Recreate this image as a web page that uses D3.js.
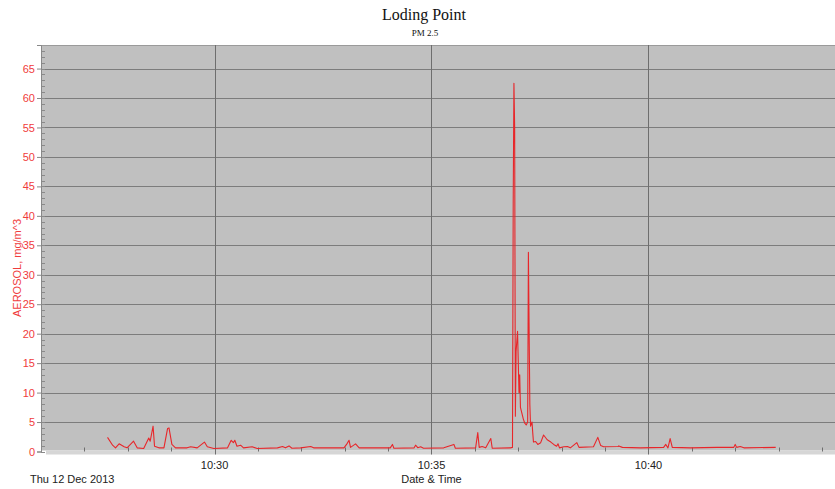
<!DOCTYPE html>
<html>
<head>
<meta charset="utf-8">
<script src="https://cdn.jsdelivr.net/npm/d3@7"></script>
<style>
  body { margin: 0; background: #fff; }
  text { font-family: "Liberation Sans", Arial, sans-serif; }
</style>
</head>
<body>
<script>
// sample times (Thu 12 Dec 2013) and aerosol readings, mg/m^3
var times = [
  "10:27:32","10:27:39","10:27:43","10:27:48","10:27:55","10:27:59","10:28:08","10:28:13",
  "10:28:22","10:28:29","10:28:31","10:28:35","10:28:37","10:28:43","10:28:50","10:28:55",
  "10:28:57","10:28:59","10:29:01","10:29:06","10:29:22","10:29:27","10:29:36","10:29:46",
  "10:29:50","10:29:59","10:30:18","10:30:23","10:30:26","10:30:28","10:30:31","10:30:36",
  "10:30:40","10:30:52","10:30:59","10:31:27","10:31:34","10:31:38","10:31:43","10:31:47",
  "10:31:59","10:32:13","10:32:17","10:32:59","10:33:03","10:33:06","10:33:08","10:33:15",
  "10:33:20","10:34:03","10:34:06","10:34:08","10:34:36","10:34:38","10:34:41","10:34:45",
  "10:34:49","10:35:17","10:35:31","10:35:33","10:36:01","10:36:04","10:36:06","10:36:10",
  "10:36:15","10:36:22","10:36:24","10:36:49","10:36:52","10:36:53","10:36:54","10:36:55",
  "10:36:56","10:36:57","10:36:59","10:37:01","10:37:02","10:37:03","10:37:06","10:37:07",
  "10:37:09","10:37:11","10:37:13","10:37:14","10:37:16","10:37:17","10:37:19","10:37:20",
  "10:37:21","10:37:24","10:37:27","10:37:31","10:37:35","10:37:40","10:37:45","10:37:49",
  "10:37:53","10:37:55","10:37:57","10:38:03","10:38:08","10:38:12","10:38:21","10:38:24",
  "10:38:44","10:38:50","10:38:54","10:38:58","10:39:18","10:39:19","10:39:24","10:39:49",
  "10:40:21","10:40:24","10:40:27","10:40:30","10:40:33","10:40:58","10:41:35","10:41:58",
  "10:42:00","10:42:02","10:42:07","10:42:12","10:42:56"
];
var aerosol = [
  2.4,1.07,0.62,1.3,0.8,0.62,1.75,0.62,
  0.5,2.3,1.75,4.3,0.9,0.62,0.62,3.9,
  4.0,2.6,1.2,0.62,0.62,0.8,0.62,1.6,
  0.8,0.5,0.62,1.9,1.5,1.9,0.9,1.07,
  0.62,0.8,0.5,0.62,0.85,0.62,0.95,0.55,
  0.62,0.85,0.62,0.62,1.3,1.9,0.7,1.3,
  0.62,0.62,1.2,0.55,0.62,1.07,0.65,0.8,
  0.55,0.62,1.2,0.55,0.62,3.2,0.7,0.85,
  0.62,2.2,0.55,0.62,0.7,42,62.5,55,
  6,17,20.4,10,13,7.5,6,5.5,
  4.8,4.5,5,33.8,8,4.3,5,3.2,
  1.6,1.7,1.2,1.5,2.8,2.0,1.6,1.2,
  0.9,1.3,0.62,0.8,0.85,0.62,1.5,0.7,
  0.8,2.4,1.0,0.8,0.85,0.95,0.7,0.62,
  0.7,1.2,0.62,2.2,0.7,0.62,0.7,0.7,
  1.2,0.7,0.85,0.62,0.7
];
var yTicks = [0,5,10,15,20,25,30,35,40,45,50,55,60,65];
var xTicks = ["10:30","10:35","10:40"];

var width = 835, height = 489;
var pLeft = 41, pRight = 835, pTop = 45, pBottom = 451.5;
var parse = d3.timeParse("%H:%M:%S");
var red = "#f03c3c";

var data = times.map(function(t, i){ return {t: parse(t), v: aerosol[i]}; });

var svg = d3.select("body").append("svg")
  .attr("width", width)
  .attr("height", height);

var x = d3.scaleTime()
  .domain([parse("10:26:00"), parse("10:44:18")])
  .range([pLeft, pRight]);
var y = d3.scaleLinear()
  .domain([0, 69])
  .range([pBottom, pTop]);

// plot background
svg.append("rect")
  .attr("x", pLeft).attr("y", pTop)
  .attr("width", pRight - pLeft).attr("height", pBottom - pTop - 1)
  .attr("fill", "#c0c0c0");
svg.append("rect")
  .attr("x", pLeft + 5).attr("y", pBottom - 1)
  .attr("width", pRight - pLeft - 5).attr("height", 4)
  .attr("fill", "#d6d6d6");
svg.append("line")
  .attr("x1", pLeft).attr("x2", pRight)
  .attr("y1", pTop + 0.5).attr("y2", pTop + 0.5)
  .attr("stroke", "#9a9a9a");

// horizontal grid
svg.append("g").selectAll("line")
  .data(yTicks.filter(function(d){ return d > 0; }))
  .enter().append("line")
  .attr("x1", pLeft).attr("x2", pRight)
  .attr("y1", function(d){ return Math.round(y(d)) + 0.5; })
  .attr("y2", function(d){ return Math.round(y(d)) + 0.5; })
  .attr("stroke", "#7c7c7c")
  .attr("stroke-width", 1.2);

// vertical grid
svg.append("g").selectAll("line")
  .data(xTicks)
  .enter().append("line")
  .attr("x1", function(d){ return Math.round(x(parse(d + ":00"))) + 0.5; })
  .attr("x2", function(d){ return Math.round(x(parse(d + ":00"))) + 0.5; })
  .attr("y1", pTop).attr("y2", pBottom + 3)
  .attr("stroke", "#6e6e6e");

// minor ticks, y (every 1) and x (every minute)
svg.append("g").selectAll("line")
  .data(d3.range(0, 69))
  .enter().append("line")
  .attr("x1", pLeft).attr("x2", pLeft + 4)
  .attr("y1", function(d){ return Math.round(y(d)) + 0.5; })
  .attr("y2", function(d){ return Math.round(y(d)) + 0.5; })
  .attr("stroke", "#8a8a8a");
svg.append("g").selectAll("line")
  .data(x.ticks(d3.timeMinute.every(1)))
  .enter().append("line")
  .attr("x1", function(d){ return Math.round(x(d)) + 0.5; })
  .attr("x2", function(d){ return Math.round(x(d)) + 0.5; })
  .attr("y1", pBottom - 4).attr("y2", pBottom)
  .attr("stroke", "#6e6e6e");

// left axis
var yAxis = d3.axisLeft(y).tickValues(yTicks).tickSize(4).tickPadding(2);
var gy = svg.append("g")
  .attr("transform", "translate(" + pLeft + ",0)")
  .call(yAxis);
gy.select(".domain").attr("stroke", "#888");
gy.selectAll(".tick line").attr("stroke", "#888");
gy.selectAll(".tick text")
  .attr("fill", red)
  .style("font-size", "11px");

// bottom axis labels
svg.append("g").selectAll("text")
  .data(xTicks)
  .enter().append("text")
  .attr("x", function(d){ return x(parse(d + ":00")); })
  .attr("y", 469)
  .attr("text-anchor", "middle")
  .attr("fill", "#222")
  .style("font-size", "11px")
  .text(function(d){ return d; });

svg.append("text")
  .attr("x", 30).attr("y", 483)
  .attr("fill", "#222")
  .style("font-size", "11px")
  .text("Thu 12 Dec 2013");
svg.append("text")
  .attr("x", x(parse("10:35:00"))).attr("y", 483)
  .attr("text-anchor", "middle")
  .attr("fill", "#222")
  .style("font-size", "11px")
  .text("Date & Time");

svg.append("text")
  .attr("transform", "translate(21,268) rotate(-90)")
  .attr("text-anchor", "middle")
  .attr("fill", red)
  .style("font-size", "11px")
  .text("AEROSOL, mg/m^3");

// titles
svg.append("text")
  .attr("x", 424).attr("y", 20)
  .attr("text-anchor", "middle")
  .style("font-family", "'Liberation Serif', 'Times New Roman', serif")
  .style("font-size", "16px")
  .attr("fill", "#111")
  .text("Loding Point");
svg.append("text")
  .attr("x", 425).attr("y", 36)
  .attr("text-anchor", "middle")
  .style("font-family", "'Liberation Serif', 'Times New Roman', serif")
  .style("font-size", "9px")
  .attr("fill", "#111")
  .text("PM 2.5");

// data line
var line = d3.line()
  .x(function(d){ return x(d.t); })
  .y(function(d){ return y(d.v); });
svg.append("path")
  .datum(data)
  .attr("d", line)
  .attr("fill", "none")
  .attr("stroke", "#e8262a")
  .attr("stroke-width", 1.1)
  .attr("stroke-linejoin", "round");
</script>
</body>
</html>
